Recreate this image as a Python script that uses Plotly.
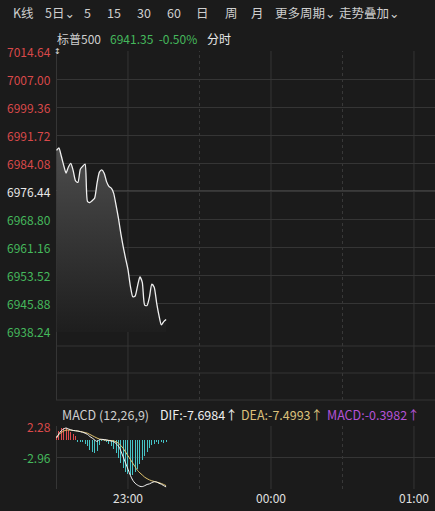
import plotly.graph_objects as go

W, H = 435, 511

# ---------------- data ----------------
minutes = list(range(47))  # minutes after 22:30
price = [6987.5, 6988.2, 6986.0, 6983.5, 6981.3, 6983.0, 6984.0, 6982.0, 6979.2, 6978.8,
         6982.4, 6983.2, 6983.8, 6973.6, 6973.3, 6973.8, 6974.5, 6978.5, 6981.6, 6982.2,
         6981.3, 6979.0, 6977.7, 6977.2, 6975.8, 6972.5, 6969.0, 6964.8, 6961.2, 6958.0,
         6955.0, 6950.5, 6947.6, 6947.8, 6950.5, 6953.0, 6951.5, 6945.3, 6945.2, 6947.5,
         6951.0, 6950.2, 6946.0, 6942.5, 6939.9, 6940.8, 6941.35]
dif = [0.3, 1.0, 1.5, 1.8, 1.95, 1.8, 1.65, 1.55, 1.5, 1.45,
       1.35, 1.25, 1.1, 0.9, 0.55, 0.3, 0.0, -0.25, 0.05, 0.1,
       0.05, 0.0, -0.1, -0.2, -0.3, -0.6, -1.0, -1.8, -2.8, -3.8,
       -4.8, -5.8, -6.6, -7.1, -7.4, -7.6, -7.65, -7.5, -7.3, -7.2,
       -7.0, -6.85, -6.9, -7.1, -7.25, -7.5, -7.6984]
dea = [0.5, 0.9, 1.2, 1.45, 1.6, 1.62, 1.6, 1.55, 1.5, 1.45,
       1.38, 1.3, 1.2, 1.1, 0.9, 0.7, 0.5, 0.3, 0.15, 0.05,
       0.0, -0.05, -0.08, -0.1, -0.15, -0.3, -0.55, -0.9, -1.4, -2.0,
       -2.6, -3.2, -3.8, -4.4, -5.0, -5.4, -5.75, -6.1, -6.35, -6.55,
       -6.7, -6.8, -6.9, -7.0, -7.15, -7.3, -7.4993]
macd_hist = [0.6, 1.4, 1.9, 2.0, 1.9, 1.6, 1.3, 1.0, 0.6, -0.3,
             -0.3, -0.4, -0.6, -1.0, -1.6, -2.0, -2.2, -1.8, -0.9, -0.2,
             -0.1, -0.3, -0.6, -1.0, -1.5, -2.2, -3.0, -3.8, -4.6, -5.2,
             -5.6, -5.8, -5.7, -5.3, -4.7, -4.0, -3.3, -2.6, -2.0, -1.4,
             -0.9, -0.6, -0.4, -0.6, -0.3, -0.5, -0.3982]

price_ticks = [7014.64, 7007.00, 6999.36, 6991.72, 6984.08, 6976.44,
               6968.80, 6961.16, 6953.52, 6945.88, 6938.24]
ref_price = 6976.44
macd_ticks = [2.28, -2.96]
macd_bottom = -8.04
time_tick_vals = [30, 90, 150]
time_tick_text = ["23:00", "00:00", "01:00"]
half_hour_vals = [60, 120]

toolbar_items = ["K线", "5日⌄", "5", "15", "30", "60", "日", "周", "月", "更多周期⌄", "走势叠加⌄"]
title_name = "标普500"
title_quote = "6941.35  -0.50%"
title_mode = "分时"
macd_title = "MACD (12,26,9)"
dif_label = "DIF:-7.6984↑"
dea_label = "DEA:-7.4993↑"
macd_label = "MACD:-0.3982↑"

# ---------------- style ----------------
BG = "#1b1b1b"
GRID = "#353535"
RED = "#d9494a"
GREEN = "#45b85c"
TXT = "#d0d0d0"
FONT = "Noto Sans CJK SC, Noto Sans, DejaVu Sans"


def py(p):  # pixel y -> paper
    return 1 - p / H


def px(p):
    return p / W


x_left_px = 56
ppm = 2.383
x_range = [-0.5 / ppm, (W - 56.5) / ppm]

main_top, main_bot = 50, 332
m_scale = (price_ticks[0] - price_ticks[-1]) / 280.0
main_range = [price_ticks[-1] - 1 * m_scale, price_ticks[0] + 1 * m_scale]
macd_top, macd_bot = 425, 490
k_scale = (macd_ticks[0] - macd_ticks[1]) / 32.0
macd_range = [macd_bottom - 1 * k_scale, macd_ticks[0] + 1 * k_scale]

fig = go.Figure()

fig.add_trace(go.Scatter(
    x=minutes, y=price, mode="lines", line=dict(color="#f0f0f0", width=1.3, shape="spline", smoothing=0.6),
    fill="tozeroy",
    fillgradient=dict(type="vertical", start=price_ticks[-1], stop=6990,
                      colorscale=[[0, "#1e1e1e"], [1, "#4e4e4e"]]),
    xaxis="x", yaxis="y", hoverinfo="skip", showlegend=False))

hist_colors = ["#e04a4c" if v >= 0 else "#46c3c6" for v in macd_hist]
fig.add_trace(go.Bar(x=minutes, y=macd_hist, marker=dict(color=hist_colors, line=dict(width=0)),
                     width=0.42, xaxis="x3", yaxis="y3", hoverinfo="skip", showlegend=False))
fig.add_trace(go.Scatter(x=minutes, y=dea, mode="lines", line=dict(color="#e2c470", width=1, shape="spline"),
                         xaxis="x3", yaxis="y3", hoverinfo="skip", showlegend=False))
fig.add_trace(go.Scatter(x=minutes, y=dif, mode="lines", line=dict(color="#f2f2f2", width=1, shape="spline"),
                         xaxis="x3", yaxis="y3", hoverinfo="skip", showlegend=False))

axis_common = dict(showgrid=False, zeroline=False, showticklabels=False, ticks="", showline=False,
                   fixedrange=True)

fig.update_layout(
    width=W, height=H, margin=dict(l=0, r=0, t=0, b=0),
    paper_bgcolor=BG, plot_bgcolor=BG, bargap=0,
    font=dict(family=FONT, color=TXT, size=12),
    xaxis=dict(domain=[px(x_left_px), 1], range=x_range, anchor="y", **axis_common),
    yaxis=dict(domain=[py(main_bot), py(main_top)], range=main_range, anchor="x",
               showgrid=True, gridcolor=GRID, gridwidth=1, tickvals=price_ticks,
               zeroline=False, showticklabels=False, ticks="", showline=False, fixedrange=True),
    xaxis3=dict(domain=[px(x_left_px), 1], range=x_range, anchor="y3", **axis_common),
    yaxis3=dict(domain=[py(macd_bot), py(macd_top)], range=macd_range, anchor="x3",
                showgrid=True, gridcolor=GRID, gridwidth=1, tickvals=macd_ticks + [macd_bottom],
                zeroline=False, showticklabels=False, ticks="", showline=False, fixedrange=True),
)

shapes = []
seg_main = (py(400), py(51))
seg_macd = (py(489), py(426))
for seg in (seg_main, seg_macd):
    for v in [0] + time_tick_vals:
        shapes.append(dict(type="line", xref="x", yref="paper", x0=v, x1=v, y0=seg[0], y1=seg[1],
                           line=dict(color=GRID, width=1), layer="below"))
    for v in half_hour_vals:
        shapes.append(dict(type="line", xref="x", yref="paper", x0=v, x1=v, y0=seg[0], y1=seg[1],
                           line=dict(color="#3a3a3a", width=1, dash="dot"), layer="below"))
for yy in (346, 373, 400):
    shapes.append(dict(type="line", xref="paper", yref="paper", x0=px(x_left_px), x1=1, y0=py(yy), y1=py(yy),
                       line=dict(color=GRID, width=1), layer="below"))
shapes.append(dict(type="line", xref="paper", yref="y", x0=px(x_left_px), x1=1, y0=ref_price, y1=ref_price,
                   line=dict(color="#5c5c5c", width=1.2), layer="below"))
fig.update_layout(shapes=shapes)

ann = []
tool_x = [11, 43, 82, 105, 135, 165, 194, 223, 249, 273, 337]
for t, xx in zip(toolbar_items, tool_x):
    ann.append(dict(text=t, x=px(xx), y=py(13), xref="paper", yref="paper", xanchor="left", yanchor="middle",
                    showarrow=False, font=dict(size=12.5, color="#cfcfcf", family=FONT)))
ann.append(dict(text=title_name, x=px(55), y=py(38), xref="paper", yref="paper", xanchor="left",
                yanchor="middle", showarrow=False, font=dict(size=12, color="#cfcfcf")))
ann.append(dict(text=title_quote, x=px(108), y=py(38), xref="paper", yref="paper", xanchor="left",
                yanchor="middle", showarrow=False, font=dict(size=12, color=GREEN)))
ann.append(dict(text=title_mode, x=px(205), y=py(38), xref="paper", yref="paper", xanchor="left",
                yanchor="middle", showarrow=False, font=dict(size=12, color="#e8e8e8")))

for v in price_ticks:
    col = RED if v > ref_price + 1e-9 else ("#e8e8e8" if abs(v - ref_price) < 1e-9 else GREEN)
    ann.append(dict(text=f"{v:.2f}", x=px(53), y=v, xref="paper", yref="y", xanchor="right",
                    yanchor="middle", showarrow=False, font=dict(size=12, color=col)))
ann.append(dict(text="↕", x=px(52.5), y=price_ticks[0], xref="paper", yref="y", xanchor="left",
                yanchor="middle", showarrow=False, borderpad=0,
                font=dict(size=8, color="#e0e0e0", family="DejaVu Sans")))

for t, xx, col in [(macd_title, 60, "#cfcfcf"), (dif_label, 158, "#eeeeee"),
                   (dea_label, 239, "#dcc07a"), (macd_label, 325, "#b452d6")]:
    ann.append(dict(text=t, x=px(xx), y=py(414), xref="paper", yref="paper", xanchor="left",
                    yanchor="middle", showarrow=False, font=dict(size=12.5, color=col)))
for v, col in zip(macd_ticks, [RED, GREEN]):
    ann.append(dict(text=f"{v:.2f}", x=px(53), y=v, xref="paper", yref="y3", xanchor="right",
                    yanchor="middle", showarrow=False, font=dict(size=12, color=col)))
for v, t in zip(time_tick_vals, time_tick_text):
    ann.append(dict(text=t, x=v, y=py(497), xref="x3", yref="paper", xanchor="center",
                    yanchor="middle", showarrow=False, font=dict(size=12, color="#e0e0e0")))
fig.update_layout(annotations=ann)

fig.write_html("out.html", config={"displayModeBar": False, "staticPlot": True},
               post_script="document.body.style.margin='0';document.body.style.background='#1b1b1b';")
